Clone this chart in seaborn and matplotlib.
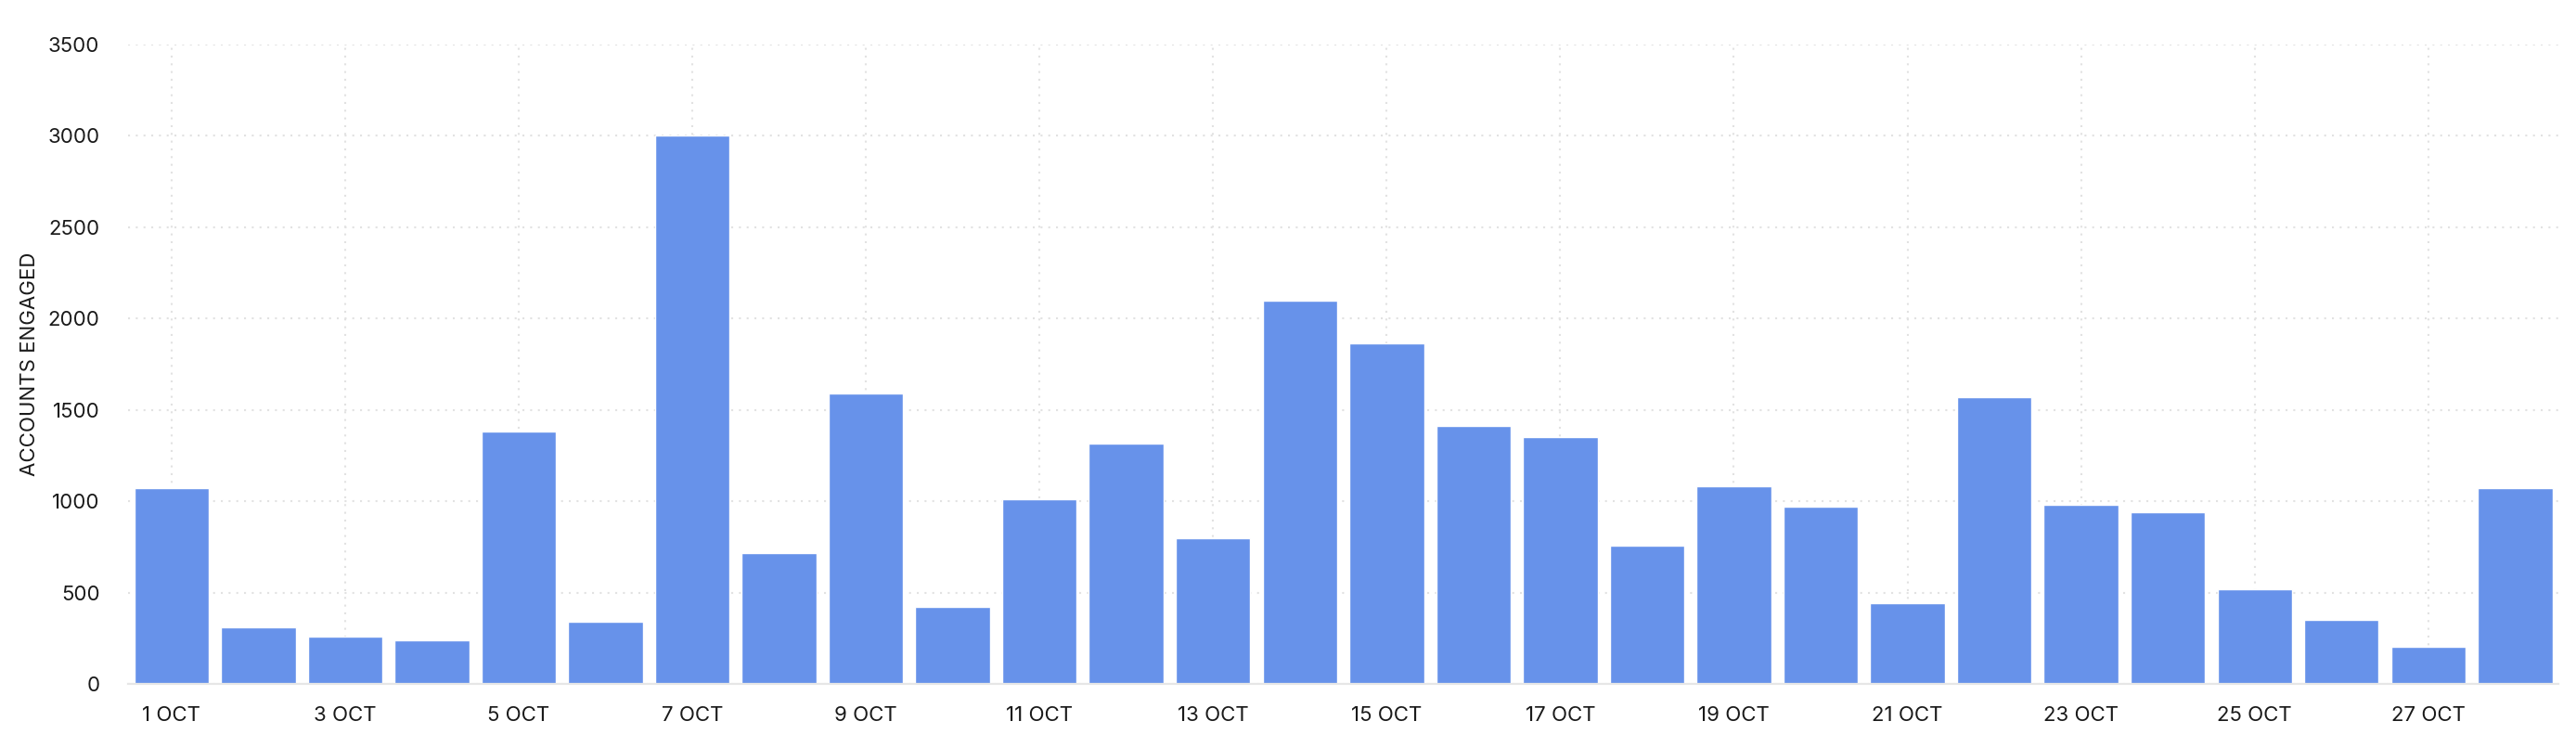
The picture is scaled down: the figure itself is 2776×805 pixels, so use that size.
import pandas as pd
import seaborn as sns
import matplotlib.pyplot as plt

# accounts engaged per day, 1-28 October
days = list(range(1, 29))
engaged = [1070, 310, 260, 240, 1380, 340, 3000, 715, 1590, 420,
           1010, 1315, 795, 2100, 1865, 1410, 1350, 755, 1080, 970,
           440, 1570, 980, 940, 520, 350, 205, 1070]
day_labels = [f"{d} OCT" for d in days]
y_ticks = [0, 500, 1000, 1500, 2000, 2500, 3000, 3500]

df = pd.DataFrame({"Day": day_labels, "Engaged": engaged})

sns.set_style("white")
plt.rcParams['font.family'] = ['Inter', 'DejaVu Sans']

fig = plt.figure(figsize=(27.76, 8.05), dpi=100)
ax = fig.add_axes([0.0497, 0.0845, 0.9435, 0.8559])

sns.barplot(data=df, x="Day", y="Engaged", color="#6792EA", saturation=1,
            width=0.86, ax=ax, zorder=2)

ax.set_ylim(0, 3500)
ax.set_xlim(-0.5, len(days) - 0.5)
ax.set_yticks(y_ticks)
ax.set_yticklabels([str(v) for v in y_ticks], fontsize=16, color="#1a1a1a")
shown = list(range(0, len(days), 2))
ax.set_xticks(shown)
ax.set_xticklabels([day_labels[i] for i in shown], fontsize=16, color="#1a1a1a")

# dotted grid behind the bars
ax.grid(True, axis="both", color="#e2e2e2", linewidth=1.5, linestyle=(0, (1, 3)), zorder=0)
ax.set_axisbelow(True)

for side in ["left", "right", "top"]:
    ax.spines[side].set_visible(False)
ax.spines["bottom"].set_color("#e6e6e6")
ax.spines["bottom"].set_linewidth(1.6)

ax.tick_params(axis="x", length=7, width=1.5, color="#e2e2e2", pad=10)
ax.tick_params(axis="y", length=0, pad=22)

ax.set_xlabel("")
ax.set_ylabel("ACCOUNTS ENGAGED", fontsize=16, color="#1a1a1a", labelpad=7)

plt.savefig("out.png", dpi=100)
